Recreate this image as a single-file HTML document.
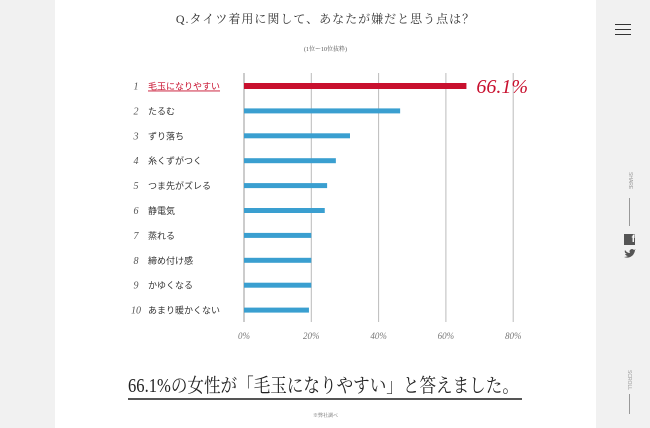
<!DOCTYPE html>
<html><head><meta charset="utf-8"><style>
body{margin:0;width:650px;height:428px;overflow:hidden;background:#fff;font-family:"Liberation Serif","Noto Serif CJK SC",serif;position:relative}
.side{position:absolute;top:0;height:428px;background:#f1f1f1}
</style></head><body>
<div class="side" style="left:0;width:55px"></div>
<div class="side" style="left:596px;width:54px">
  <div style="position:absolute;left:19px;top:24px;width:16px;height:9px;border-top:1px solid #333;border-bottom:1px solid #333"><div style="margin-top:4px;border-top:1px solid #333"></div></div>
  <div style="position:absolute;left:31px;top:172px;font:5px 'Liberation Sans',sans-serif;color:#999;writing-mode:vertical-rl">SHARE</div>
  <div style="position:absolute;left:33px;top:198px;width:1px;height:28px;background:#999"></div>
  <div style="position:absolute;left:28px;top:234px;width:11px;height:11px;background:#555;color:#fff;font:bold 10px 'Liberation Sans',sans-serif;text-align:right;line-height:12px">f</div>
  <svg style="position:absolute;left:28px;top:249px" width="12" height="10"><path d="M0 8 Q5 10 9 6 Q11 3 11 1 L12 0 L10 1 Q8 -1 6 1 Q5 2 6 4 Q3 4 1 1 Q0 4 3 5 L1 5 Q2 7 4 7 Q2 8 0 8Z" fill="#555"/></svg>
  <div style="position:absolute;left:30px;top:370px;font:5px 'Liberation Sans',sans-serif;color:#999;writing-mode:vertical-rl">SCROLL</div>
  <div style="position:absolute;left:33px;top:394px;width:1px;height:20px;background:#999"></div>
</div>
<div style="position:absolute;left:55px;width:541px;top:10px;text-align:center;font-size:12px;color:#333;letter-spacing:1px">Q.タイツ着用に関して、あなたが嫌だと思う点は？</div>
<div style="position:absolute;left:55px;width:541px;top:44px;text-align:center;font-size:6px;color:#555">(1位ー10位抜粋)</div>
<svg id="c" width="650" height="428" style="position:absolute;left:0;top:0"></svg>
<div style="position:absolute;left:128px;top:376px;width:394px;height:22px;border-bottom:2px solid #555">
<div style="font-size:19.5px;color:#222;white-space:nowrap;line-height:22px;transform:scaleX(0.85);transform-origin:0 0">66.1%の女性が「毛玉になりやすい」と答えました。</div></div>
<div style="position:absolute;left:55px;width:541px;top:412px;text-align:center;font-size:5px;color:#666">※弊社調べ</div>
<script>
const categories=["毛玉になりやすい","たるむ","ずり落ち","糸くずがつく","つま先がズレる","静電気","蒸れる","締め付け感","かゆくなる","あまり暖かくない"];
const values=[66.1,46.4,31.5,27.3,24.7,24.0,20.0,20.0,20.0,19.3];
const ticks=[0,20,40,60,80];
const tickLabels=["0%","20%","40%","60%","80%"];
const svg=document.getElementById('c');const NS="http://www.w3.org/2000/svg";
const x=v=>244+v*3.365;const y=i=>86+i*24.9;
function mk(t,a){const e=document.createElementNS(NS,t);for(const k in a)e.setAttribute(k,a[k]);svg.appendChild(e);return e;}
ticks.forEach((t,i)=>{
 const l=mk('line',{x1:x(t),x2:x(t),y1:73,y2:322,stroke:i==0?'#999':'#bbb','stroke-width':1});
 
 
 const tx=mk('text',{x:x(t),y:339,'text-anchor':'middle','font-size':9,'font-style':'italic',fill:'#777','font-family':'Liberation Serif,serif'});
 tx.textContent=tickLabels[i];
 
 
});
categories.forEach((c,i)=>{
 const red=i==0;
 const r=mk('rect',{x:x(0),y:y(i)-(red?3:2.5),width:x(values[i])-x(0),height:red?6:5,fill:red?'#c8102e':'#3a9fd0'});
 
 
 const n=mk('text',{x:136,y:y(i)+3.5,'text-anchor':'middle','font-size':10,'font-style':'italic',fill:'#555','font-family':'Liberation Serif,serif'});
 n.textContent=String(i+1);
 
 
 const t=mk('text',{x:148,y:y(i)+3.5,'font-size':9,fill:red?'#c8102e':'#333','font-family':'Liberation Sans,Noto Sans CJK JP,sans-serif','text-decoration':red?'underline':'none'});
 t.textContent=c;
 
 
});
const v=mk('text',{x:x(values[0])+10,y:y(0)+7,'font-size':20,fill:'#c8102e','font-family':'Liberation Serif,serif','font-style':'italic'});
v.textContent=values[0]+'%';


</script>
</body></html>
